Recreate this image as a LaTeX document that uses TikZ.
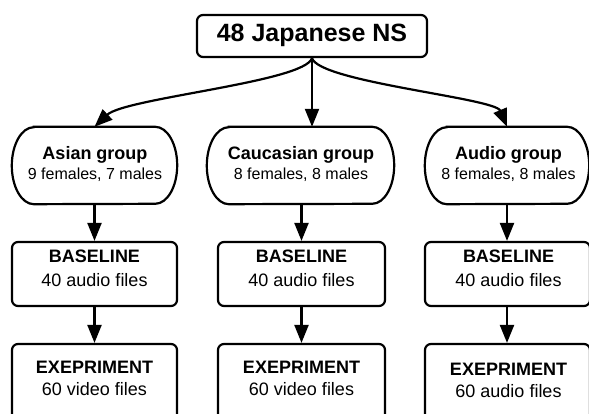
\documentclass[tikz,border=0pt]{standalone}
\usepackage{fontspec}
\setmainfont{Liberation Sans}
\usetikzlibrary{arrows.meta,calc}
\newcommand\mystadium[1]{%
  \draw[edgeline] ($(#1.north west)+(22,0)$) -- ($(#1.north east)+(-22,0)$)
    arc[start angle=90,end angle=-90,x radius=22pt,y radius=38.5pt]
    -- ($(#1.south west)+(22,0)$)
    arc[start angle=270,end angle=90,x radius=22pt,y radius=38.5pt] -- cycle;}
\tikzset{
  edgeline/.style={line width=2.2pt},
  boxnode/.style={draw, line width=2.2pt, rounded corners=6pt, inner sep=0pt},
  stadnode/.style={inner sep=0pt, minimum height=77pt},
  arr/.style={line width=2.2pt, -{Triangle[length=18pt,width=14pt]}},
  bigt/.style={font=\fontsize{25}{30}\selectfont\bfseries, anchor=base, inner sep=0pt},
  bt/.style={font=\fontsize{18}{22}\selectfont\bfseries, anchor=base, inner sep=0pt},
  rt/.style={font=\fontsize{18}{22}\selectfont, anchor=base, inner sep=0pt},
  st/.style={font=\fontsize{16}{20}\selectfont, anchor=base, inner sep=0pt},
}
\begin{document}
\begin{tikzpicture}[x=1pt,y=1pt]
\fill[white] (0,0) rectangle (589,414);
\useasboundingbox (0,0) rectangle (589,414);
\clip (0,0) rectangle (589,414);

% top
\node[boxnode, minimum width=230pt, minimum height=42pt] (top) at (312,378) {};
\node[bigt] (toptxt) at (312,372) {48 Japanese NS};

% groups
\node[stadnode, minimum width=165pt] (asian) at (94.5,248.5) {};
\node[stadnode, minimum width=187pt] (cauc) at (300.5,248.5) {};
\node[stadnode, minimum width=164pt] (audio) at (507,248.5) {};
\mystadium{asian}
\mystadium{cauc}
\mystadium{audio}
\node[bt] (asian1) at (95,254) {Asian group};
\node[st] (asian2) at (95,234) {9 females, 7 males};
\node[bt] (cauc1) at (301,254) {Caucasian group};
\node[st] (cauc2) at (301,234) {8 females, 8 males};
\node[bt] (audio1) at (508.5,254) {Audio group};
\node[st] (audio2) at (508.5,234) {8 females, 8 males};

% baseline boxes
\node[boxnode, minimum width=165pt, minimum height=64pt] (base1) at (94.5,140) {};
\node[boxnode, minimum width=167pt, minimum height=64pt] (base2) at (301.5,140) {};
\node[boxnode, minimum width=165pt, minimum height=64pt] (base3) at (507.5,140) {};
\node[bt] (base1a) at (94.5,151) {BASELINE};
\node[rt] (base1b) at (94.5,127.5) {40 audio files};
\node[bt] (base2a) at (301.5,151) {BASELINE};
\node[rt] (base2b) at (301.5,127.5) {40 audio files};
\node[bt] (base3a) at (508.5,151) {BASELINE};
\node[rt] (base3b) at (508.5,127.5) {40 audio files};

% experiment boxes
\node[boxnode, minimum width=165pt, minimum height=80pt] (exp1) at (94.5,30) {};
\node[boxnode, minimum width=167pt, minimum height=80pt] (exp2) at (301.5,30) {};
\node[boxnode, minimum width=165pt, minimum height=80pt] (exp3) at (507.5,30) {};
\node[bt] (exp1a) at (94.5,40) {EXEPRIMENT};
\node[rt] (exp1b) at (94.5,18) {60 video files};
\node[bt] (exp2a) at (301.5,40) {EXEPRIMENT};
\node[rt] (exp2b) at (301.5,18) {60 video files};
\node[bt] (exp3a) at (508.5,38) {EXEPRIMENT};
\node[rt] (exp3b) at (508.5,16) {60 audio files};

% arrows from top
\draw[arr] (top.south) .. controls (305,332) and (125,316) .. (asian.north);
\draw[arr] (top.south) -- (top.south |- cauc.north);
\draw[arr] (top.south) .. controls (319,332) and (495,316) .. (audio.north);

% vertical arrows
\draw[arr] (asian.south) -- (base1.north);
\draw[arr] (base1.south) -- (exp1.north);
\draw[arr] (base2.north |- cauc.south) -- (base2.north);
\draw[arr] (base2.south) -- (exp2.north);
\draw[arr] (audio.south) -- (audio.south |- base3.north);
\draw[arr] (audio.south |- base3.south) -- (audio.south |- exp3.north);
\end{tikzpicture}
\end{document}
